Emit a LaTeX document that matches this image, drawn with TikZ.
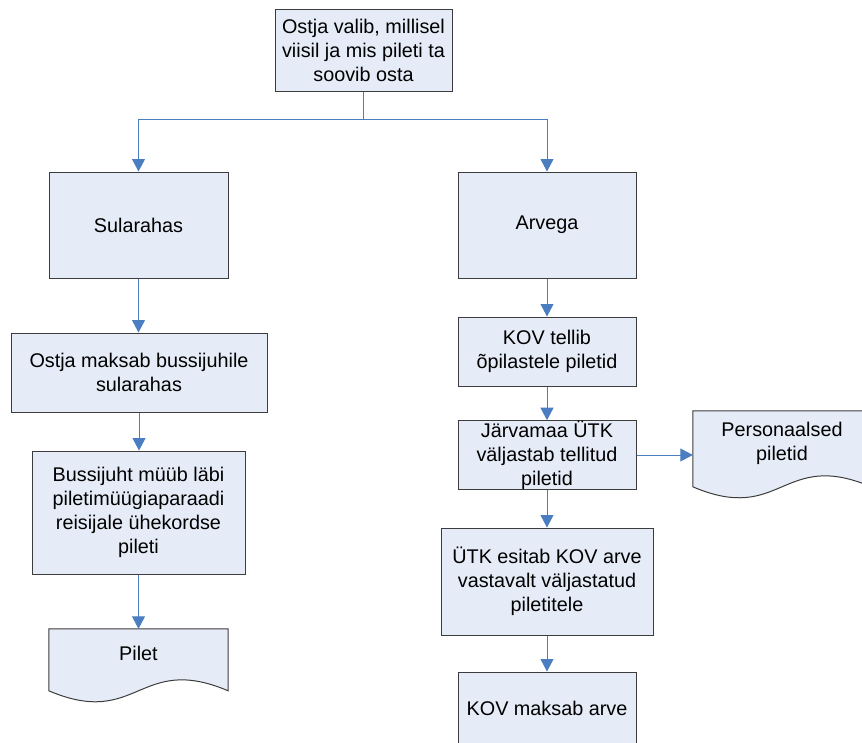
\documentclass[tikz,border=0pt]{standalone}
\usepackage{fontspec}
\setmainfont{Liberation Sans}
\usetikzlibrary{arrows.meta,calc,backgrounds}

\definecolor{boxfill}{RGB}{230,236,247}
\definecolor{boxline}{RGB}{60,60,60}
\definecolor{linkblue}{RGB}{74,126,193}
\newcommand\boxfont{\fontsize{19.8pt}{24pt}\selectfont}

\tikzset{
  box/.style={draw=boxline, fill=boxfill, line width=1pt, inner sep=0pt,
              align=center, font=\boxfont},
  docnode/.style={inner sep=0pt, align=center, font=\boxfont},
  docshape/.style={draw=boxline, fill=boxfill, line width=1pt},
  link/.style={draw=linkblue, line width=0.9pt},
  arr/.style={link, -{Triangle[length=12.5pt,width=13pt]}},
}

\begin{document}
\begin{tikzpicture}[x=1pt,y=-1pt]
\useasboundingbox (0,0) rectangle (862,742);

% process boxes
\node[box, minimum width=177, minimum height=82] (top) at (363.5,50)
  {Ostja valib, millisel\\viisil ja mis pileti ta\\soovib osta};
\node[box, minimum width=179, minimum height=106] (sul) at (138.5,225) {Sularahas};
\node[box, minimum width=178, minimum height=106] (arv) at (547,225) {Arvega};
\node[box, minimum width=256, minimum height=79] (ostja) at (139,372.5)
  {Ostja maksab bussijuhile\\sularahas};
\node[box, minimum width=213, minimum height=123] (buss) at (138.5,512.5)
  {Bussijuht müüb läbi\\piletimüügiaparaadi\\reisijale ühekordse\\pileti};
\node[box, minimum width=178, minimum height=69] (kovt) at (547,351.5)
  {KOV tellib\\õpilastele piletid};
\node[box, minimum width=178, minimum height=64] (jarv) at (547,455)
  {Järvamaa ÜTK\\väljastab tellitud\\piletid};
\node[box, minimum width=212, minimum height=107] (utk) at (547,581.5)
  {ÜTK esitab KOV arve\\vastavalt väljastatud\\piletitele};
\node[box, minimum width=178, minimum height=72] (kovm) at (547,708)
  {KOV maksab arve};

% document shapes: text nodes, wavy outline behind them
\node[docnode, minimum width=179, minimum height=49.4] (pilet) at (138.5,653.7) {Pilet};
\node[docnode, minimum width=178, minimum height=65] (pers) at (782,443.5)
  {Personaalsed\\piletid};
\begin{scope}[on background layer]
  \draw[docshape] (pilet.north east) -- (pilet.north west) -- ++(0,62)
    .. controls +(89.5,38) and +(-89.5,-38) .. ($(pilet.north east)+(0,62)$) -- cycle;
  \draw[docshape] (pers.north east) -- (pers.north west) -- ++(0,76)
    .. controls +(89,38) and +(-89,-38) .. ($(pers.north east)+(0,76)$) -- cycle;
\end{scope}

% connectors
\coordinate (split) at (363.5,119);
\draw[link] (top.south) -- (split);
\draw[arr] (split) -| (sul.north);
\draw[arr] (split) -| (arv.north);
\draw[arr] (sul.south) -- (sul.south |- ostja.north);
\draw[arr] (ostja.south) -- (ostja.south |- buss.north);
\draw[arr] (buss.south) -- (buss.south |- pilet.north);
\draw[arr] (arv.south) -- (kovt.north);
\draw[arr] (kovt.south) -- (jarv.north);
\draw[arr] (jarv.east) -- (jarv.east -| pers.west);
\draw[arr] (jarv.south) -- (utk.north);
\draw[arr] (utk.south) -- (kovm.north);
\end{tikzpicture}
\end{document}
